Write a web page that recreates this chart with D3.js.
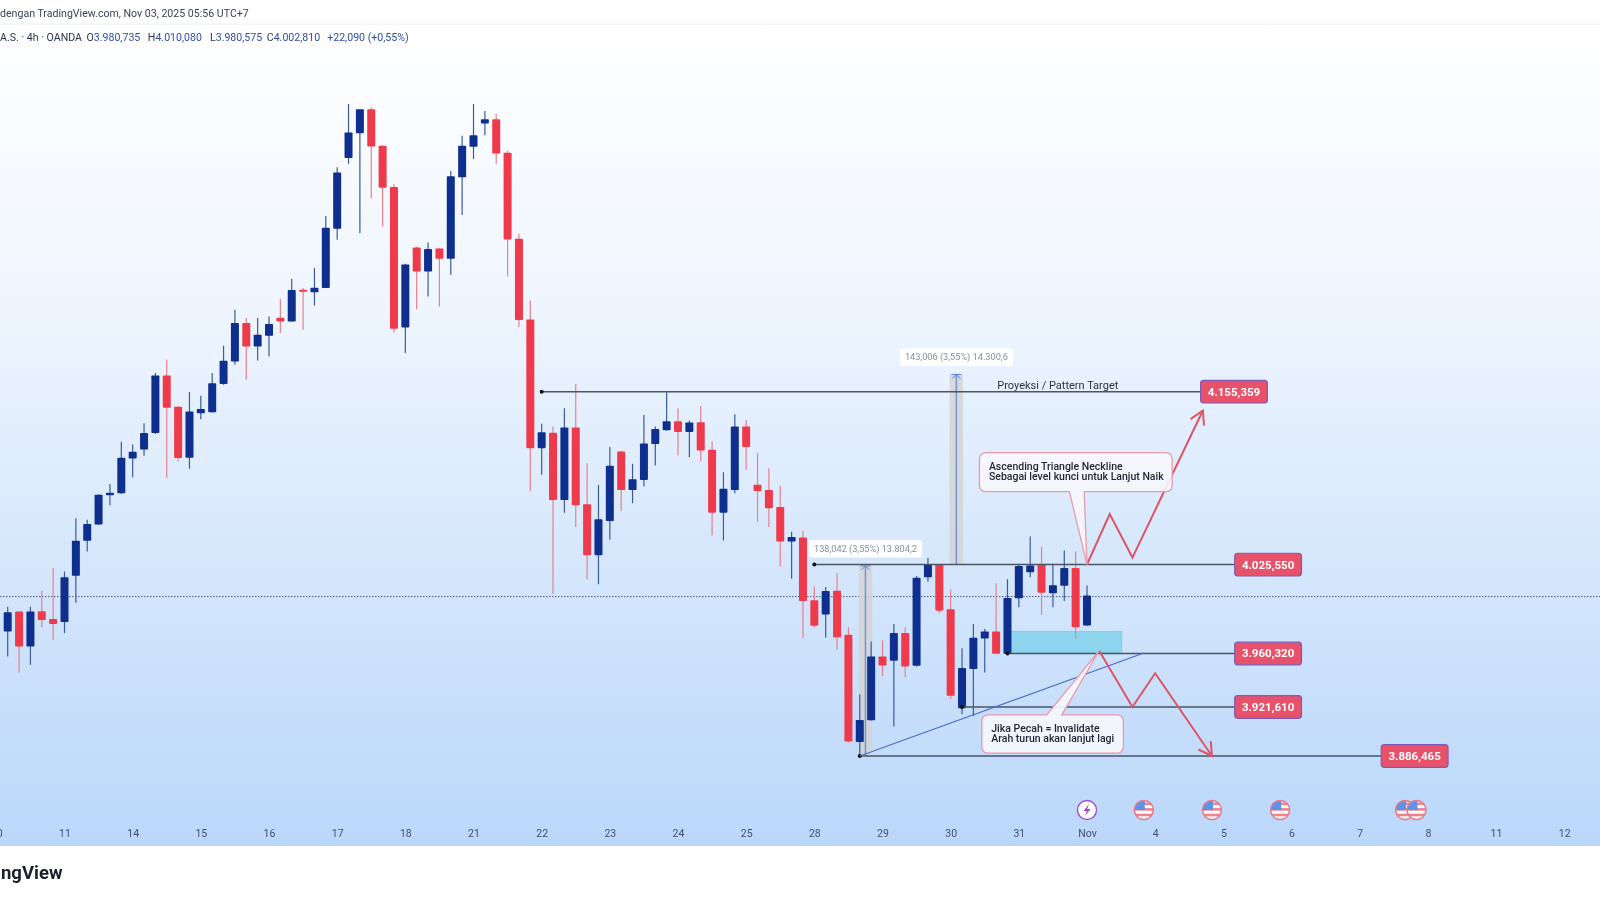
<!DOCTYPE html>
<html><head><meta charset="utf-8">
<script src="https://cdn.jsdelivr.net/npm/d3@7"></script>
<style>
html,body{margin:0;padding:0;background:#fff;overflow:hidden}
svg{display:block;filter:blur(.6px)}
text{font-family:Roboto,"Open Sans",sans-serif}
</style></head><body>
<svg id="c" width="1600" height="900"></svg>
<script>
// ---- chart values (OANDA gold, 4h candles, prices) ----
const opens = [3976.3,3990.9,3965.4,3991.2,3985.4,3983.2,4017.2,4043.1,4055.2,4077.1,4078.6,4104.7,4111.5,4123.9,4167.7,4143.9,4105.2,4139.0,4139.7,4161.3,4178.5,4208.1,4190.0,4198.3,4212.1,4209.3,4233.8,4232.0,4235.2,4281.5,4337.5,4357.4,4376.6,4347.3,4314.6,4204.7,4266.9,4248.1,4266.1,4258.0,4322.3,4346.5,4365.1,4368.6,4341.7,4273.7,4210.8,4112.5,4124.1,4073.5,4128.1,4070.3,4032.5,4057.9,4110.0,4081.0,4088.6,4115.6,4126.1,4132.9,4124.8,4132.2,4111.3,4064.1,4081.0,4128.8,4085.0,4081.0,4068.3,4042.6,4045.6,3999.2,3988.7,4006.3,3973.9,3896.4,3912.1,3958.1,3955.0,3975.2,3951.4,4016.2,4025.6,3992.6,3920.7,3949.1,3971.2,3976.3,3960.1,4000.7,4019.9,4025.6,4004.4,4009.8,4022.9,3980.735];
const highs = [3994.5,3991.0,3994.5,4006.3,4022.9,4020.4,4059.9,4058.7,4077.8,4085.6,4117.3,4115.3,4131.4,4169.6,4179.8,4144.5,4155.2,4152.3,4169.6,4190.6,4218.3,4211.9,4211.9,4213.1,4226.8,4242.4,4235.2,4250.8,4291.7,4330.3,4380.8,4376.6,4378.2,4347.5,4317.0,4254.2,4267.7,4270.8,4266.4,4327.3,4355.3,4380.8,4375.2,4372.8,4343.3,4277.6,4225.5,4130.9,4128.8,4142.7,4161.3,4101.2,4084.8,4113.3,4110.7,4100.7,4137.7,4128.8,4154.9,4142.7,4133.4,4144.5,4117.5,4094.4,4138.2,4133.9,4108.8,4097.4,4084.3,4049.8,4050.8,4009.3,4008.9,4019.2,3979.5,3930.8,3969.0,3969.8,3981.9,3979.5,4017.0,4030.3,4025.9,4007.3,3964.2,3981.9,3978.1,4011.7,4014.7,4025.9,4046.3,4038.9,4026.1,4035.9,4035.2,4010.08];
const lows = [3958.1,3946.5,3952.1,3979.5,3970.3,3975.2,3997.4,4035.2,4055.0,4069.6,4078.0,4090.6,4106.7,4123.3,4090.3,4102.4,4097.0,4134.4,4139.6,4160.6,4176.0,4164.4,4179.3,4182.3,4200.4,4209.3,4202.9,4221.6,4235.2,4272.9,4332.9,4278.2,4305.5,4283.3,4200.8,4185.0,4218.8,4228.6,4220.8,4245.5,4292.5,4336.7,4355.8,4332.9,4244.2,4205.0,4080.3,4092.4,4003.8,4064.1,4053.3,4014.7,4011.0,4043.9,4065.3,4071.1,4083.6,4099.4,4125.8,4107.0,4105.7,4102.4,4047.0,4043.3,4078.6,4096.2,4057.4,4053.3,4024.1,4015.0,3971.5,3979.0,3972.0,3963.0,3896.1,3886.6,3911.8,3944.0,3907.5,3943.1,3950.8,4012.9,3989.7,3927.1,3916.4,3915.2,3946.5,3959.9,3959.4,3994.1,4016.2,3988.5,3994.1,3998.7,3971.5,3980.575];
const closes = [3990.4,3965.4,3990.9,3984.8,3981.9,4016.2,4043.1,4055.7,4077.5,4079.0,4105.2,4109.7,4123.9,4167.7,4143.2,4105.0,4140.2,4142.2,4161.9,4179.0,4208.1,4190.0,4199.0,4207.3,4209.3,4233.6,4232.8,4235.4,4282.3,4326.0,4357.9,4376.6,4346.7,4314.0,4203.7,4253.6,4248.1,4265.6,4258.0,4323.1,4347.3,4355.8,4368.6,4341.1,4273.2,4210.4,4112.5,4124.6,4073.5,4128.1,4069.6,4032.5,4059.2,4099.2,4081.0,4089.1,4116.0,4126.9,4132.9,4124.8,4131.9,4110.7,4064.1,4081.9,4128.8,4113.3,4080.3,4067.3,4042.6,4045.9,3998.7,3980.5,4006.0,3972.2,3896.8,3912.3,3958.1,3951.6,3975.2,3950.8,4015.8,4025.6,3991.6,3929.7,3949.7,3971.7,3976.3,3960.1,4000.9,4024.4,4024.8,4004.8,4010.3,4022.9,3979.5,4002.81];

const dayLabels = ["10","11","14","15","16","17","18","21","22","23","24","25","28","29","30","31","Nov","4","5","6","7","8","11","12"];
const barsPerDay = 6, firstDayBar = -1;

const levelPrices = [4155.359,4025.55,3960.32,3921.61,3886.465];
const levelStartBars = [47,71,88,84,75];
const levelEndBars = [105,108,108,108,120.9];
const lastPriceLine = 4001.9;

const zoneBars = [88,98.06], zonePrices = [3976.3,3960.32];
const trendBars = [75,100], trendPrices = [3886.465,3960.6];
const upPathBars = [95,97,99,105.2], upPathPrices = [4025.55,4063,4030.7,4141];
const downPathBars = [96.07,99,101,106], downPathPrices = [3962.3,3921.61,3946,3886.465];

const measureBars = [75.5,83.5];
const measureFrom = [3886.465,4025.55];
const measureDelta = [138.042,143.006];
const measureText = ["138,042 (3,55%) 13.804,2","143,006 (3,55%) 14.300,6"];

const noteLines = [["Ascending Triangle Neckline","Sebagai level kunci untuk Lanjut Naik"],["Jika Pecah = Invalidate","Arah turun akan lanjut lagi"]];
const noteBars = [[85.53,102.5],[85.74,98.2]];
const notePrices = [[4109.2,4079.8],[3915.9,3888.5]];
const noteTailBars = [[93.45,94.75,95],[91.46,92.78,96.07]];
const noteTailPrice = [4025.55,3962.3];

const targetCaption = "Proyeksi / Pattern Target", captionBar = 92.43;
const flagBars = [100,106,112,123,124], boltBars = [95];

const headerLine = "dengan TradingView.com, Nov 03, 2025 05:56 UTC+7";
const legendHead = "A.S. · 4h · OANDA";
const legendKeys = ["O","H","L","C",""];
const legendVals = ["3.980,735","4.010,080","3.980,575","4.002,810","+22,090 (+0,55%)"];
const brand = "ngView";

// ---- scales ----
const W=1600,H=900;
const x=d3.scaleLinear().domain([0,95]).range([7.7,1087]);
const y=d3.scaleLog().domain([4155.359,3886.465]).range([391.7,756]);
const nf=d3.formatLocale({decimal:",",thousands:".",grouping:[3]}).format(",.3f");

const svg=d3.select("#c");
const defs=svg.append("defs");
const g=defs.append("linearGradient").attr("id","bg").attr("x1",0).attr("x2",0).attr("y1",0).attr("y2",1);
g.append("stop").attr("offset","0%").attr("stop-color","#ffffff");
g.append("stop").attr("offset","35%").attr("stop-color","#eef5fe");
g.append("stop").attr("offset","100%").attr("stop-color","#bad7fa");

svg.append("rect").attr("width",W).attr("height",H).attr("fill","#fff");
svg.append("rect").attr("y",24).attr("width",W).attr("height",822).attr("fill","url(#bg)");
svg.append("line").attr("x1",0).attr("x2",W).attr("y1",24).attr("y2",24).attr("stroke","#eef0f3");

// header
svg.append("text").attr("x",0).attr("y",17).attr("font-size",10.6).attr("fill","#3a4356").text(headerLine);
const leg=svg.append("text").attr("x",0).attr("y",41).attr("font-size",10.6).attr("fill","#2b3550");
leg.append("tspan").text(legendHead);
const legendGaps=[4.5,7.5,8,4.5,7];
legendKeys.forEach((k,i)=>{
  if(k) leg.append("tspan").attr("dx",legendGaps[i]).text(k);
  const v=leg.append("tspan").attr("fill","#2f4fa8").text(legendVals[i]);
  if(!k) v.attr("dx",legendGaps[i]);
});
svg.append("text").attr("x",62.5).attr("y",879).attr("text-anchor","end").attr("font-size",18.5).attr("font-weight",700).attr("fill","#1a1f2b").text(brand);

// last-price dotted line
svg.append("line").attr("x1",0).attr("x2",W).attr("y1",y(lastPriceLine)).attr("y2",y(lastPriceLine))
  .attr("stroke","#4a5a78").attr("stroke-dasharray","1.5 1.5");

// zone
svg.append("rect").attr("x",x(zoneBars[0])).attr("width",x(zoneBars[1])-x(zoneBars[0]))
  .attr("y",y(zonePrices[0])).attr("height",y(zonePrices[1])-y(zonePrices[0]))
  .attr("fill","#8dd5ec").attr("stroke","#7cc9e6").attr("stroke-width",.8);

// measure bands
const tops=measureFrom.map((p,i)=>p+measureDelta[i]);
measureBars.forEach((b,i)=>{
  svg.append("rect").attr("x",x(b)-6.7).attr("width",13.4).attr("y",y(tops[i])).attr("height",y(measureFrom[i])-y(tops[i]))
    .attr("fill","#d4d5d4").attr("opacity",.85);
});

// candles
const idx=d3.range(closes.length);
const RED="#ef3a4c",BLUE="#0e2f8e";
const col=i=>closes[i]>=opens[i]?BLUE:RED;
svg.append("g").selectAll("line").data(idx).join("line")
  .attr("x1",i=>x(i)).attr("x2",i=>x(i)).attr("y1",i=>y(highs[i])).attr("y2",i=>y(lows[i]))
  .attr("stroke",i=>closes[i]>=opens[i]?"#3d5a9a":"#ea7f8c").attr("stroke-width",1.2);
svg.append("g").selectAll("rect").data(idx).join("rect")
  .attr("x",i=>x(i)-4).attr("width",8).attr("rx",.8)
  .attr("y",i=>y(Math.max(opens[i],closes[i])))
  .attr("height",i=>Math.max(2,Math.abs(y(opens[i])-y(closes[i]))))
  .attr("fill",col);

// measure arrows
measureBars.forEach((b,i)=>{
  const X=x(b),T=y(tops[i]),B=y(measureFrom[i]);
  svg.append("line").attr("x1",X).attr("x2",X).attr("y1",T).attr("y2",B).attr("stroke","#7592da").attr("stroke-width",1.5);
  svg.append("path").attr("d",`M${X-5},${T}H${X+5}M${X-4},${T+4}L${X},${T}L${X+4},${T+4}`).attr("fill","none").attr("stroke","#5f83d6").attr("stroke-width",1);
  const w=113.4,h=17.5;
  svg.append("rect").attr("x",X-w/2).attr("y",T-h-8.5).attr("width",w).attr("height",h).attr("rx",2).attr("fill","#fff").attr("opacity",.95);
  svg.append("text").attr("x",X).attr("y",T-8.5-h/2+3).attr("text-anchor","middle").attr("font-size",9.2).attr("fill","#8a8f98").text(measureText[i]);
});

// levels
levelPrices.forEach((p,i)=>{
  svg.append("line").attr("x1",x(levelStartBars[i])).attr("x2",x(levelEndBars[i])).attr("y1",y(p)).attr("y2",y(p))
    .attr("stroke","#4a5663").attr("stroke-width",1.5);
  svg.append("circle").attr("cx",x(levelStartBars[i])).attr("cy",y(p)).attr("r",2).attr("fill","#111");
});
svg.append("text").attr("x",x(captionBar)).attr("y",y(levelPrices[0])-3).attr("font-size",11).attr("fill","#2c3340")
  .attr("text-anchor","middle").text(targetCaption);

// trend line
svg.append("line").attr("x1",x(trendBars[0])).attr("x2",x(trendBars[1])).attr("y1",y(trendPrices[0])).attr("y2",y(trendPrices[1]))
  .attr("stroke","#4a6dcc").attr("stroke-width",1.1);

// projected paths
const ln=d3.line();
function drawPath(bars,prices){
  const pts=bars.map((b,i)=>[x(b),y(prices[i])]);
  svg.append("path").attr("d",ln(pts)).attr("fill","none").attr("stroke","#dd5468").attr("stroke-width",2);
  const a=pts[pts.length-1],b=pts[pts.length-2],ang=Math.atan2(b[1]-a[1],b[0]-a[0]),L=15;
  const h1=[a[0]+L*Math.cos(ang+.52),a[1]+L*Math.sin(ang+.52)],h2=[a[0]+L*Math.cos(ang-.52),a[1]+L*Math.sin(ang-.52)];
  svg.append("path").attr("d",ln([h1,a,h2])).attr("fill","none").attr("stroke","#dd5468").attr("stroke-width",2);
}
drawPath(upPathBars,upPathPrices);
drawPath(downPathBars,downPathPrices);

// callouts
noteLines.forEach((lines,i)=>{
  const l=x(noteBars[i][0]),r=x(noteBars[i][1]),t=y(notePrices[i][0]),b=y(notePrices[i][1]),c=7;
  const tb=noteTailBars[i],tx1=x(tb[0]),tx2=x(tb[1]),tipx=x(tb[2]),tipy=y(noteTailPrice[i]);
  let d;
  if(tipy>b) d=`M${l+c},${t}H${r-c}Q${r},${t} ${r},${t+c}V${b-c}Q${r},${b} ${r-c},${b}H${tx2}L${tipx},${tipy}L${tx1},${b}H${l+c}Q${l},${b} ${l},${b-c}V${t+c}Q${l},${t} ${l+c},${t}Z`;
  else d=`M${l+c},${t}H${tx1}L${tipx},${tipy}L${tx2},${t}H${r-c}Q${r},${t} ${r},${t+c}V${b-c}Q${r},${b} ${r-c},${b}H${l+c}Q${l},${b} ${l},${b-c}V${t+c}Q${l},${t} ${l+c},${t}Z`;
  svg.append("path").attr("d",d).attr("fill","#f6f7fc").attr("fill-opacity",.9).attr("stroke","#e89bab").attr("stroke-width",1.3);
  lines.forEach((s,k)=>svg.append("text").attr("x",l+9.5).attr("y",t+17.5+k*10).attr("font-size",10.5).attr("font-weight",500).attr("fill","#1e2430").text(s));
});

// price labels
levelPrices.forEach((p,i)=>{
  const w=66.8,h=22.6,X=x(levelEndBars[i]);
  svg.append("rect").attr("x",X).attr("y",y(p)-h/2).attr("width",w).attr("height",h).attr("rx",3)
    .attr("fill","#e8516a").attr("stroke","#7b5bb8").attr("stroke-width",1.2);
  svg.append("text").attr("x",X+w/2).attr("y",y(p)+4).attr("text-anchor","middle").attr("font-size",11.5).attr("font-weight",700)
    .attr("fill","#fff").text(nf(p));
});

// event icons
const iconY=810,R=9.5;
flagBars.forEach((b,i)=>{
  const X=x(b),id="f"+i;
  defs.append("clipPath").attr("id",id).append("circle").attr("cx",X).attr("cy",iconY).attr("r",R);
  const e=svg.append("g");
  e.append("circle").attr("cx",X).attr("cy",iconY).attr("r",R).attr("fill","#fff");
  const cg=e.append("g").attr("clip-path",`url(#${id})`);
  [0,4,8,12].forEach(k=>cg.append("rect").attr("x",X-R).attr("y",iconY-R+2+k*1.4).attr("width",2*R).attr("height",2.6).attr("fill","#ee8490"));
  cg.append("rect").attr("x",X-R).attr("y",iconY-R).attr("width",R+1).attr("height",R).attr("fill","#5b94e6");
  e.append("circle").attr("cx",X).attr("cy",iconY).attr("r",R).attr("fill","none").attr("stroke","#e8788a").attr("stroke-width",1.5);
});
boltBars.forEach(b=>{
  const X=x(b);
  svg.append("circle").attr("cx",X).attr("cy",iconY).attr("r",R).attr("fill","#fff").attr("stroke","#a050c8").attr("stroke-width",1.4);
  svg.append("path").attr("d",`M${X+2},${iconY-6}L${X-3.5},${iconY+1}H${X}L${X-2},${iconY+6}L${X+3.5},${iconY-1}H${X}Z`).attr("fill","#a03fc8");
});

// time axis
const tickBars=dayLabels.map((d,i)=>firstDayBar+i*barsPerDay);
const axis=d3.axisBottom(x).tickValues(tickBars).tickSize(0).tickPadding(0).tickFormat((d,i)=>dayLabels[i]);
const ax=svg.append("g").attr("transform","translate(0,830)").call(axis);
ax.select(".domain").remove();
ax.selectAll("text").attr("font-size",10.5).attr("fill","#41506e").style("font-family","Roboto,sans-serif");
</script>
</body></html>
